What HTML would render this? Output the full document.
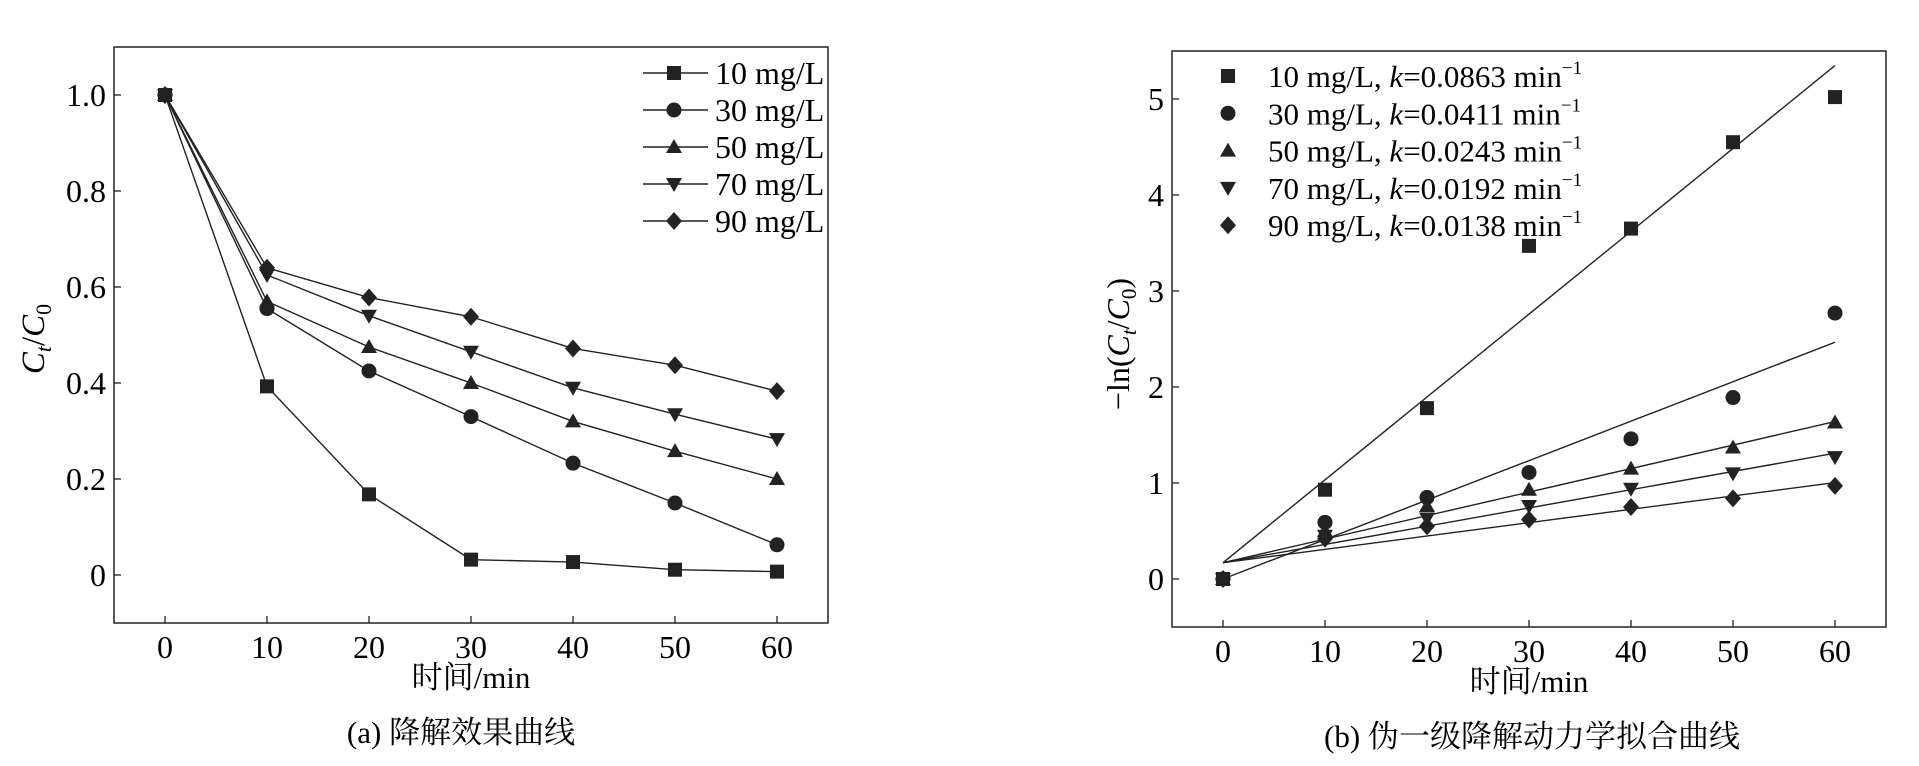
<!DOCTYPE html>
<html><head><meta charset="utf-8"><style>
body{margin:0;background:#fff;}
svg{display:block;font-family:"Liberation Serif","Noto Serif CJK SC",serif;}
</style></head><body>
<svg id="s" width="1919" height="766"></svg>
<script>
const xTicks=[0,10,20,30,40,50,60];
const times=[0,10,20,30,40,50,60];
const seriesNames=["10 mg/L","30 mg/L","50 mg/L","70 mg/L","90 mg/L"];
const markers=["square","circle","up","down","diamond"];
const aY10=[1,0.393,0.168,0.032,0.027,0.011,0.007];
const aY30=[1,0.555,0.425,0.33,0.233,0.15,0.063];
const aY50=[1,0.57,0.475,0.4,0.32,0.258,0.2];
const aY70=[1,0.625,0.54,0.465,0.39,0.335,0.283];
const aY90=[1,0.64,0.578,0.538,0.472,0.437,0.383];
const aYTicks=[0,0.2,0.4,0.6,0.8,1.0];
const aYTickLabels=["0","0.2","0.4","0.6","0.8","1.0"];
const bY10=[0,0.93,1.78,3.47,3.65,4.55,5.02];
const bY30=[0,0.59,0.85,1.11,1.46,1.89,2.77];
const bY50=[0,0.5,0.76,0.93,1.15,1.37,1.63];
const bY70=[0,0.45,0.63,0.76,0.94,1.1,1.27];
const bY90=[0,0.42,0.55,0.62,0.75,0.84,0.97];
const fitIntercepts=[0.17,0.0,0.17,0.17,0.17];
const fitSlopes=[0.0863,0.0411,0.0245,0.019,0.0139];
const kLabels=["0.0863","0.0411","0.0243","0.0192","0.0138"];
const bYTicks=[0,1,2,3,4,5];

const NS="http://www.w3.org/2000/svg";
const svg=document.getElementById('s');
function el(t,a,p){const e=document.createElementNS(NS,t);for(const k in a)e.setAttribute(k,a[k]);(p||svg).appendChild(e);return e;}
function marker(type,x,y,g){
  const s=7;let e;
  if(type==="square")e=el('rect',{x:x-s,y:y-s,width:2*s,height:2*s,fill:'#222'},g);
  else if(type==="circle")e=el('circle',{cx:x,cy:y,r:7.5,fill:'#222'},g);
  else if(type==="up")e=el('path',{d:`M${x},${y-8}L${x+8},${y+6}L${x-8},${y+6}Z`,fill:'#222'},g);
  else if(type==="down")e=el('path',{d:`M${x},${y+8}L${x+8},${y-6}L${x-8},${y-6}Z`,fill:'#222'},g);
  else e=el('path',{d:`M${x},${y-9}L${x+8},${y}L${x},${y+9}L${x-8},${y}Z`,fill:'#222'},g);
  return e;
}
function frame(L,T,R,B,xmin,xmax,ymin,ymax){
  const sx=v=>L+(v-xmin)/(xmax-xmin)*(R-L);
  const sy=v=>B-(v-ymin)/(ymax-ymin)*(B-T);
  const r=el('rect',{x:L,y:T,width:R-L,height:B-T,fill:'none',stroke:'#222','stroke-width':1.5});
  
  xTicks.forEach(v=>{
    el('line',{x1:sx(v),x2:sx(v),y1:B,y2:B-7,stroke:'#222','stroke-width':1.3});
    const t=el('text',{x:sx(v),y:B+35,'text-anchor':'middle','font-size':32});t.textContent=v;
    
  });
  return {sx,sy};
}
// Chart A
const A=frame(114,47,828,623,-5,65,-0.1,1.1);
aYTicks.forEach((v,i)=>{
  el('line',{x1:114,x2:121,y1:A.sy(v),y2:A.sy(v),stroke:'#222','stroke-width':1.3});
  const t=el('text',{x:106,y:A.sy(v)+11,'text-anchor':'end','font-size':32});t.textContent=aYTickLabels[i];
  
});
[aY10,aY30,aY50,aY70,aY90].forEach((ys,i)=>{
  const g=el('g',{});
  
  
  el('polyline',{points:ys.map((y,j)=>A.sx(times[j])+','+A.sy(y)).join(' '),fill:'none',stroke:'#222','stroke-width':1.4},g);
  ys.forEach((y,j)=>marker(markers[i],A.sx(times[j]),A.sy(y),g));
  const ly=73+i*37;
  const lg=el('g',{});
  
  el('line',{x1:643,x2:708,y1:ly,y2:ly,stroke:'#222','stroke-width':1.4},lg);
  marker(markers[i],674,ly,lg);
  const t=el('text',{x:715,y:ly+11,'font-size':32},lg);t.textContent=seriesNames[i];
});
let t=el('text',{x:0,y:0,'font-size':33,'font-style':'italic',transform:'translate(44,339) rotate(-90)','text-anchor':'middle'});
t.innerHTML='C<tspan font-size="22" dy="7">t</tspan><tspan dy="-7" font-style="normal">/</tspan>C<tspan font-size="22" dy="7" font-style="normal">0</tspan>';

t=el('text',{x:471,y:688,'text-anchor':'middle','font-size':31});t.textContent='时间/min';

t=el('text',{x:461,y:743,'text-anchor':'middle','font-size':31});t.textContent='(a) 降解效果曲线';


// Chart B
const B=frame(1172,51,1886,627,-5,65,-0.5,5.5);
bYTicks.forEach(v=>{
  el('line',{x1:1172,x2:1179,y1:B.sy(v),y2:B.sy(v),stroke:'#222','stroke-width':1.3});
  const t=el('text',{x:1164,y:B.sy(v)+11,'text-anchor':'end','font-size':32});t.textContent=v;
  
});
[bY10,bY30,bY50,bY70,bY90].forEach((ys,i)=>{
  const g=el('g',{});
  
  
  el('line',{x1:B.sx(0),y1:B.sy(fitIntercepts[i]),x2:B.sx(60),y2:B.sy(fitIntercepts[i]+fitSlopes[i]*60),stroke:'#222','stroke-width':1.4},g);
  ys.forEach((y,j)=>marker(markers[i],B.sx(times[j]),B.sy(y),g));
  const ly=76+i*37.3;
  const lg=el('g',{});
  
  marker(markers[i],1228,ly,lg);
  const t=el('text',{x:1268,y:ly+11,'font-size':31},lg);
  t.innerHTML=seriesNames[i]+', <tspan font-style="italic">k</tspan>='+kLabels[i]+' min<tspan font-size="19" dy="-13">−1</tspan>';
});
t=el('text',{x:0,y:0,'font-size':32,transform:'translate(1129,344) rotate(-90)','text-anchor':'middle'});
t.innerHTML='−ln(<tspan font-style="italic">C</tspan><tspan font-size="21" dy="7" font-style="italic">t</tspan><tspan dy="-7">/</tspan><tspan font-style="italic">C</tspan><tspan font-size="21" dy="7">0</tspan><tspan dy="-7">)</tspan>';

t=el('text',{x:1529,y:692,'text-anchor':'middle','font-size':31});t.textContent='时间/min';

t=el('text',{x:1532,y:747,'text-anchor':'middle','font-size':31});t.textContent='(b) 伪一级降解动力学拟合曲线';

</script>
</body></html>
